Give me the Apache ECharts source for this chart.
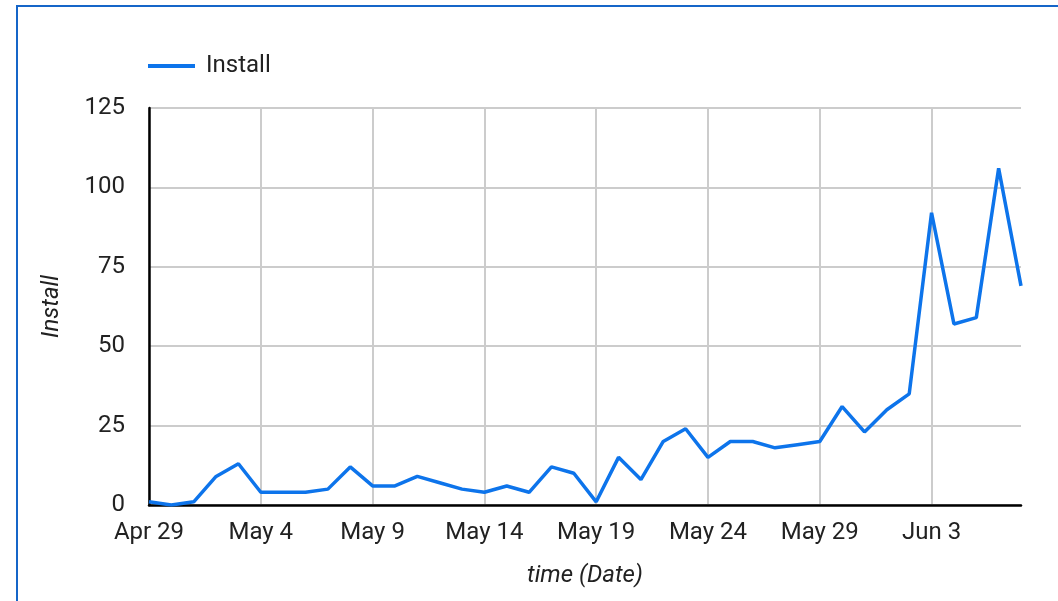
<!DOCTYPE html>
<html>
<head>
<meta charset="utf-8">
<style>
  html, body { margin: 0; padding: 0; background: #fff; }
  #chart { width: 1058px; height: 601px; }
</style>
<script src="https://cdn.jsdelivr.net/npm/echarts@6/dist/echarts.min.js"></script>
</head>
<body>
<div id="chart"></div>
<script>
// Daily dates, Apr 29 through Jun 7
const dates = [
  'Apr 29', 'Apr 30', 'May 1', 'May 2', 'May 3', 'May 4', 'May 5', 'May 6', 'May 7', 'May 8',
  'May 9', 'May 10', 'May 11', 'May 12', 'May 13', 'May 14', 'May 15', 'May 16', 'May 17', 'May 18',
  'May 19', 'May 20', 'May 21', 'May 22', 'May 23', 'May 24', 'May 25', 'May 26', 'May 27', 'May 28',
  'May 29', 'May 30', 'May 31', 'Jun 1', 'Jun 2', 'Jun 3', 'Jun 4', 'Jun 5', 'Jun 6', 'Jun 7'
];

// Installs per day
const installs = [
  1, 0, 1, 9, 13, 4, 4, 4, 5, 12,
  6, 6, 9, 7, 5, 4, 6, 4, 12, 10,
  1, 15, 8, 20, 24, 15, 20, 20, 18, 19,
  20, 31, 23, 30, 35, 92, 57, 59, 106, 69
];

const yTicks = { min: 0, max: 125, interval: 25 };

const FONT = 'Roboto, "Noto Sans", sans-serif';
const FS = 24;
const chart = echarts.init(document.getElementById('chart'), null, { renderer: 'canvas' });

chart.setOption({
  animation: false,
  backgroundColor: '#fff',
  textStyle: { fontFamily: FONT },
  graphic: [{
    type: 'rect',
    shape: { x: 17, y: 6, width: 1200, height: 800 },
    style: { fill: 'none', stroke: '#1565c8', lineWidth: 2 },
    silent: true
  }],
  legend: {
    left: 143,
    top: 49,
    icon: 'rect',
    itemWidth: 47,
    itemHeight: 4,
    itemGap: 10,
    textStyle: { fontSize: FS, color: '#222', fontFamily: FONT, padding: [0, 0, 0, 6] },
    data: ['Install']
  },
  grid: { left: 149, right: 37, top: 108, bottom: 96, containLabel: false },
  xAxis: {
    type: 'category',
    data: dates,
    boundaryGap: false,
    name: 'time (Date)',
    nameLocation: 'middle',
    nameGap: 59,
    nameTextStyle: { fontSize: FS, fontStyle: 'italic', color: '#222', fontFamily: FONT },
    axisLine: { show: true, lineStyle: { color: '#000', width: 2.5 } },
    axisTick: { show: false },
    axisLabel: { interval: 4, fontSize: FS, color: '#222', margin: 16, fontFamily: FONT },
    splitLine: { show: true, interval: 4, lineStyle: { color: '#cccccc', width: 2 } }
  },
  yAxis: {
    type: 'value',
    min: yTicks.min,
    max: yTicks.max,
    interval: yTicks.interval,
    name: 'Install',
    nameLocation: 'middle',
    nameRotate: 90,
    nameGap: 85,
    nameTextStyle: { fontSize: FS, fontStyle: 'italic', color: '#222', fontFamily: FONT },
    axisLine: { show: true, lineStyle: { color: '#000', width: 2.5 } },
    axisTick: { show: false },
    axisLabel: { fontSize: FS, color: '#222', margin: 24, fontFamily: FONT },
    splitLine: { show: true, lineStyle: { color: '#cccccc', width: 2 } }
  },
  series: [{
    name: 'Install',
    type: 'line',
    data: installs,
    showSymbol: false,
    symbol: 'none',
    lineStyle: { color: '#0d74eb', width: 3.5 },
    itemStyle: { color: '#0d74eb' },
    z: 3
  }]
});
</script>
</body>
</html>
